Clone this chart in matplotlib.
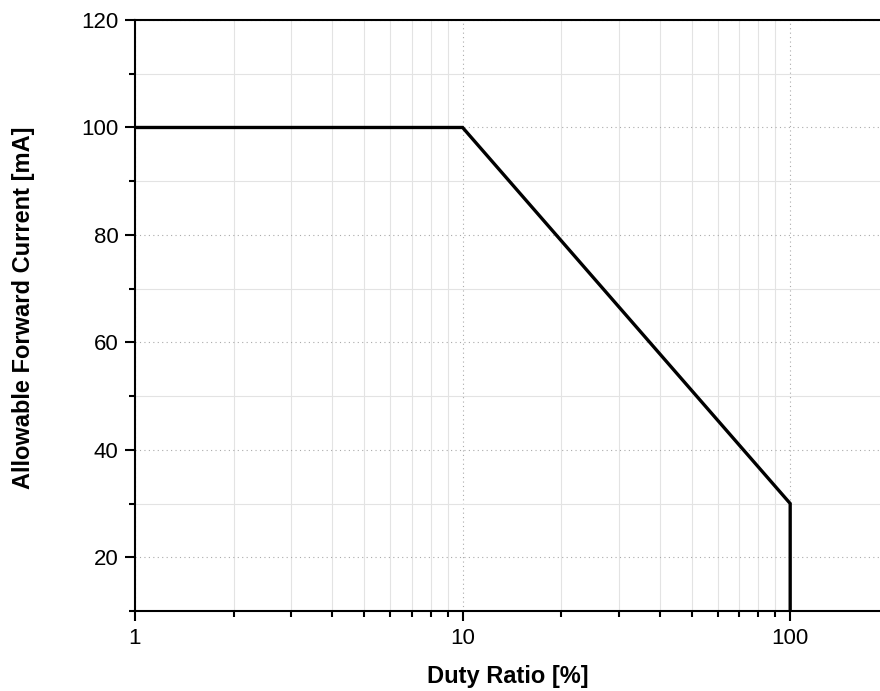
import numpy as np
import matplotlib.pyplot as plt
from matplotlib.ticker import MultipleLocator, LogLocator, FixedLocator

# curva de derating
duty = [1, 10, 100, 100]
current = [100, 100, 30, 10]
xticks = [1, 10, 100]
xlabels = ["1", "10", "100"]
yticks = [20, 40, 60, 80, 100, 120]

plt.rcParams['font.family'] = ['Liberation Sans', 'DejaVu Sans']

fig = plt.figure(figsize=(8.8, 6.91), dpi=100)
ax = fig.add_axes([0.1534, 0.1158, 0.8466, 0.8552])

ax.plot(duty, current, color="black", lw=2.4, solid_joinstyle="miter", zorder=3)

ax.set_xscale("log")
ax.set_xlim(1, 188)
ax.set_ylim(10, 120)

ax.xaxis.set_major_locator(FixedLocator(xticks))
ax.set_xticklabels(xlabels)
ax.xaxis.set_minor_locator(LogLocator(base=10, subs=np.arange(2, 10)))
ax.xaxis.set_minor_formatter(plt.NullFormatter())
ax.yaxis.set_major_locator(FixedLocator(yticks))
ax.yaxis.set_minor_locator(MultipleLocator(10))

ax.grid(which="major", color="#aaaaaa", lw=0.8, ls=(0, (1, 3)))
ax.grid(which="minor", color="#e3e3e3", lw=0.8, ls="-")
ax.set_axisbelow(True)

ax.spines["right"].set_visible(False)
for s in ["left", "bottom", "top"]:
    ax.spines[s].set_linewidth(1.5)

ax.tick_params(which="major", direction="out", length=7, width=1.5, labelsize=16, pad=5)
ax.tick_params(which="minor", direction="out", length=4, width=1.5)
ax.tick_params(axis="y", which="both", right=False)
ax.tick_params(axis="x", which="both", top=False)

ax.set_xlabel("Duty Ratio [%]", fontsize=17, fontweight="bold", labelpad=12)
ax.set_ylabel("Allowable Forward Current [mA]", fontsize=17, fontweight="bold")
ax.yaxis.set_label_coords(-0.134, 0.513)

plt.savefig("out.png", dpi=100)
